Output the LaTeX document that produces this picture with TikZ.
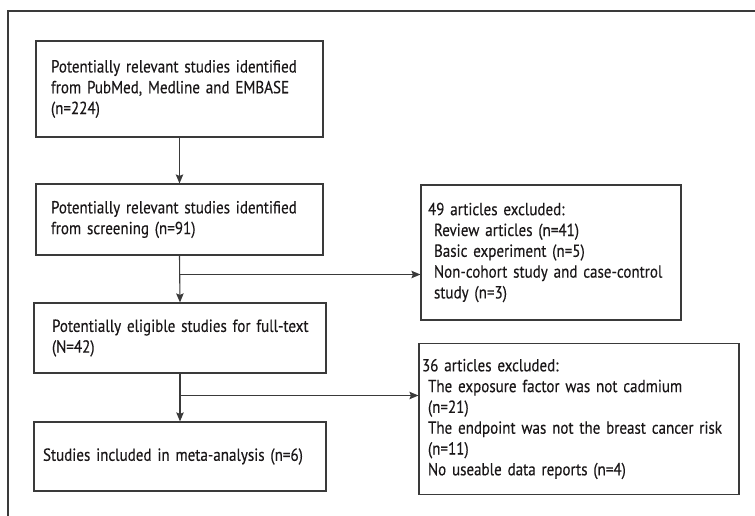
\documentclass[tikz,border=0pt]{standalone}
\usepackage{fontspec}
\setmainfont{PT Sans}[FakeStretch=0.86,FakeBold=0.3]
\usetikzlibrary{arrows.meta}
\definecolor{linegray}{HTML}{3A3A3A}
\definecolor{txt}{HTML}{1A1718}
\tikzset{
  box/.style={draw=linegray, line width=1.2pt, rectangle, inner ysep=0pt,
    align=left, text=txt, font=\fontsize{17.5}{20.8}\selectfont},
  arr/.style={draw=linegray, line width=1.1pt, -{Stealth[length=9pt,width=7.5pt,inset=1.5pt]}},
  frame/.style={draw=linegray, line width=1.1pt}
}
\begin{document}
\begin{tikzpicture}[x=1pt,y=-1pt]
\useasboundingbox (0,0) rectangle (755,516);
\coordinate (fb) at (8,517);
\coordinate (fc) at (8,11);
\coordinate (fr) at (756,11);
\draw[frame] (fb) -- (fc) -- (fr);

\node[box, minimum width=287pt, minimum height=96pt, inner xsep=15pt, text width=257pt] (b1) at (179.5,89)
  {Potentially relevant studies identified\\from PubMed, Medline and EMBASE\\(n=224)};
\node[box, minimum width=287pt, minimum height=71pt, inner xsep=15pt, text width=257pt] (b2) at (179.5,219.5)
  {Potentially relevant studies identified\\from screening (n=91)};
\node[box, minimum width=292pt, minimum height=70pt, inner xsep=6pt, text width=280pt] (b3) at (180,338)
  {\hspace*{12pt}Potentially eligible studies for full-text\\\hspace*{12pt}(N=42)};
\node[box, minimum width=292pt, minimum height=69pt, inner xsep=9pt, text width=274pt] (b4) at (180,456.5)
  {Studies included in meta-analysis (n=6)};
\node[box, minimum width=260pt, minimum height=135pt, inner xsep=7pt, text width=246pt] (e1) at (551,252.5)
  {49 articles excluded:\\
   \hspace*{6pt}Review articles (n=41)\\
   \hspace*{6pt}Basic experiment (n=5)\\
   \hspace*{6pt}Non-cohort study and case-control\\
   \hspace*{6pt}study (n=3)};
\node[box, minimum width=320pt, minimum height=151pt, inner xsep=3pt, text width=314pt] (e2) at (579,419)
  {36 articles excluded:\\
   \hspace*{6pt}The exposure factor was not cadmium\\
   \hspace*{6pt}(n=21)\\
   \hspace*{6pt}The endpoint was not the breast cancer risk\\
   \hspace*{6pt}(n=11)\\
   \hspace*{6pt}No useable data reports (n=4)};

\draw[arr] (b1.south) -- (b2.north);
\draw[arr] (b2.south) -- (b3.north);
\draw[arr] (b3.south) -- (b4.north);
\coordinate (j1) at (180,274.5);
\coordinate (j2) at (180,395.5);
\draw[arr] (j1) -- (j1 -| e1.west);
\draw[arr] (j2) -- (j2 -| e2.west);
\end{tikzpicture}
\end{document}
